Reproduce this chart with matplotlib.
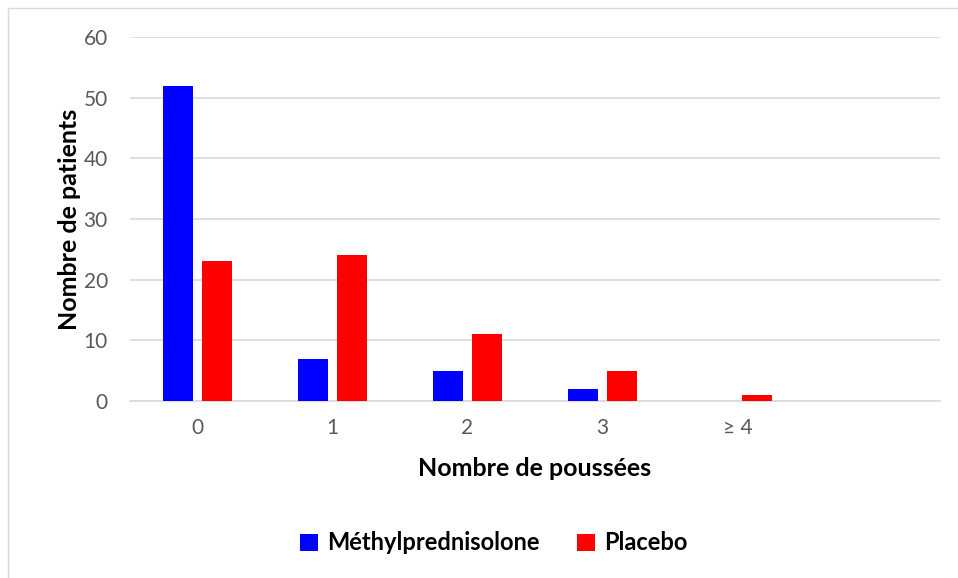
import matplotlib.pyplot as plt
import numpy as np
from matplotlib.patches import Rectangle

categories = ["0", "1", "2", "3", "\u2265 4", ""]
methyl = [52, 7, 5, 2, 0, 0]
placebo = [23, 24, 11, 5, 1, 0]

plt.rcParams['font.family'] = ['Lato', 'DejaVu Sans']

fig = plt.figure(figsize=(9.58, 5.78), dpi=100)
ax = fig.add_axes([130/958, 177/578, 810/958, 364/578])

# outer chart border
fig.patches.append(Rectangle((8/958, -0.01), 1.0, 1 - 8/578 + 0.01, transform=fig.transFigure,
                             fill=False, edgecolor="#d9d9d9", linewidth=1))

x = np.arange(len(categories))
w = 30/135
gap = 9/135
ax.bar(x - (w + gap)/2, methyl, w, color="#0000ff", label="Méthylprednisolone", zorder=3)
ax.bar(x + (w + gap)/2, placebo, w, color="#ff0000", label="Placebo", zorder=3)

ax.set_xlim(-0.5, 5.5)
ax.set_ylim(0, 60)
ax.set_yticks(range(0, 61, 10))
ax.set_xticks(x)
ax.set_xticklabels(categories)
ax.yaxis.grid(True, color="#d9d9d9", linewidth=1.2, zorder=0)
for s in ["top", "right", "left"]:
    ax.spines[s].set_visible(False)
ax.spines["bottom"].set_color("#d9d9d9")
ax.spines["bottom"].set_linewidth(1.2)
ax.tick_params(axis="both", length=0, labelsize=15, colors="#595959", pad=12)
ax.tick_params(axis="y", pad=16)

ax.set_xlabel("Nombre de poussées", fontsize=18, fontweight="bold", labelpad=14)
ax.set_ylabel("Nombre de patients", fontsize=18, fontweight="bold", labelpad=2)

fig.legend(loc="center", bbox_to_anchor=(494/958, 1 - 543/578), ncol=2, frameon=False,
           prop={"weight": "bold", "size": 17}, handlelength=0.75, handleheight=0.75,
           columnspacing=1.6, handletextpad=0.4)

fig.savefig("out.png", dpi=100)
